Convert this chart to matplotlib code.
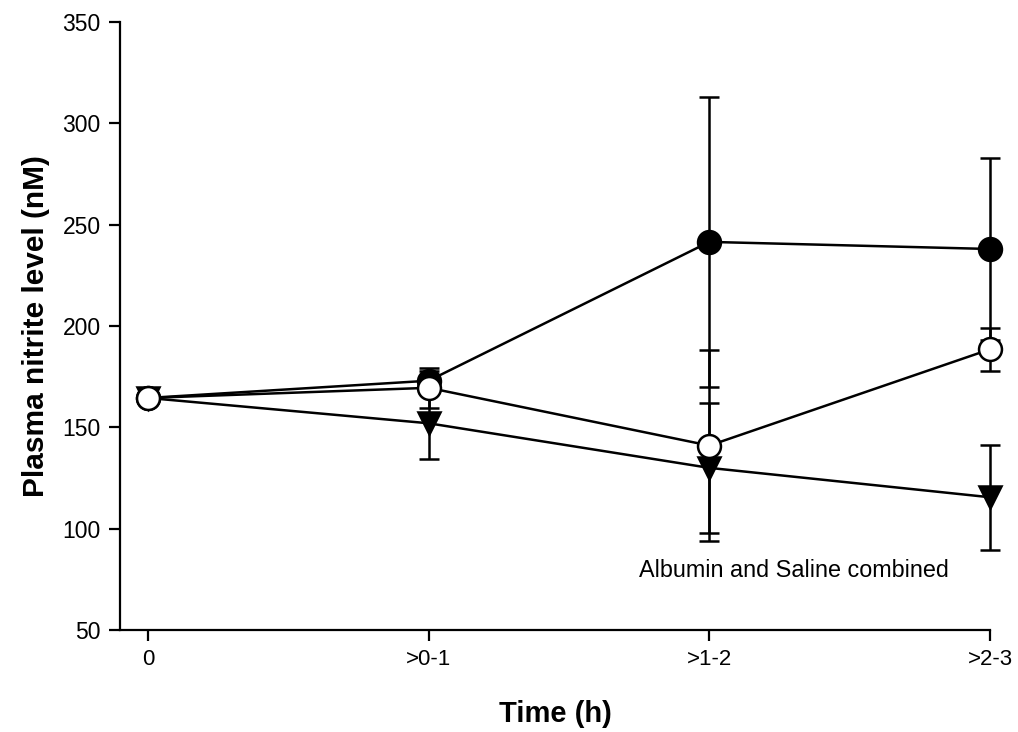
import matplotlib
matplotlib.use("Agg")
import matplotlib.pyplot as plt

plt.rcParams['font.family'] = ['Liberation Sans', 'DejaVu Sans']

categories = ["0", ">0-1", ">1-2", ">2-3"]
x_pos = [0, 1, 2, 3]

filled_vals = [164.5, 173, 241.5, 238]
filled_err = [0, 5, 71.5, 45]

open_vals = [164.5, 169.5, 141, 188.5]
open_err = [0, 10, 47, 10.5]

tri_vals = [164.5, 152, 130, 115.5]
tri_err = [0, 17.5, 32, 26]

annotation = "Albumin and Saline combined"

fig = plt.figure(figsize=(10.18, 7.32), dpi=100)
ax = fig.add_axes([120/1018, 1-630/732, 870/1018, 608/732])

common = dict(color='black', ecolor='black', elinewidth=1.8, capsize=7.5,
              capthick=1.8, linewidth=1.8, markersize=16.5, markeredgewidth=1.8)

def draw(vals, err, fmt, face, z):
    cont = ax.errorbar(x_pos, vals, yerr=err, fmt=fmt, markerfacecolor=face,
                       markeredgecolor='black', zorder=z, **common)
    for art in cont.get_children():
        art.set_clip_on(False)
    return cont

draw(tri_vals, tri_err, '-v', 'black', 2)
draw(filled_vals, filled_err, '-o', 'black', 3)
draw(open_vals, open_err, '-o', 'white', 4)

ax.set_xlim(-0.0998, 3.0)
ax.set_ylim(50, 350)
ax.set_xticks(x_pos)
ax.set_xticklabels(categories)
ax.set_yticks([50, 100, 150, 200, 250, 300, 350])

for s in ['top', 'right']:
    ax.spines[s].set_visible(False)
for s in ['left', 'bottom']:
    ax.spines[s].set_linewidth(1.6)
ax.tick_params(axis='both', direction='out', length=8, width=1.6, labelsize=16.5)
ax.tick_params(axis='y', pad=6)
ax.tick_params(axis='x', pad=6, labelsize=16)

ax.set_xlabel("Time (h)", fontsize=21, fontweight='bold', labelpad=21)
ax.set_ylabel("Plasma nitrite level (nM)", fontsize=21.5, fontweight='bold', labelpad=9)

ax.text(1.75, 79.5, annotation, fontsize=16.8, ha='left', va='center')

fig.savefig("out.png", dpi=100)
